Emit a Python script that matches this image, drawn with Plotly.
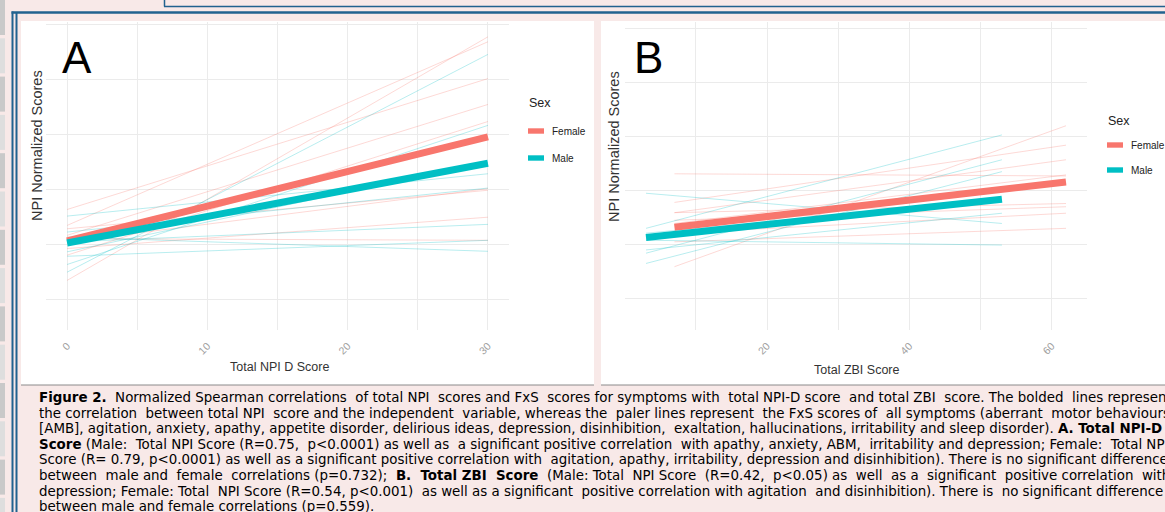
import plotly.graph_objects as go

W, H = 1165, 512

# ---------------- data ----------------
sex_labels = ["Female", "Male"]
sex_colors = ["#F8766D", "#00BFC4"]

# Panel A: Total NPI-D score
npi_d_x = [0, 30]
a_female_total = [0.007, 0.196]
a_male_total = [0.003, 0.148]
a_female_symptoms = [
    [-0.065, 0.378], [0.035, 0.369], [0.064, 0.302], [0.017, 0.255],
    [-0.019, 0.224], [0.029, 0.099], [-0.007, 0.050], [0.011, 0.008],
    [0.005, 0.102],
]
a_male_symptoms = [
    [-0.050, 0.346], [-0.036, 0.217], [0.052, 0.129], [0.023, 0.103],
    [0.005, 0.037], [-0.021, 0.008], [0.014, -0.012], [-0.013, 0.150],
]

# Panel B: Total ZBI score
zbi_female_x = [7, 62]
zbi_male_x = [3, 53]
b_female_total = [0.031, 0.115]
b_male_total = [0.012, 0.083]
b_female_symptoms = [
    [-0.042, 0.219], [0.077, 0.183], [0.130, 0.126], [0.058, 0.156],
    [0.038, 0.128], [0.058, 0.075], [0.020, 0.057], [0.004, 0.029],
    [0.044, 0.069],
]
b_male_symptoms = [
    [0.094, 0.038], [0.029, 0.202], [-0.017, 0.156], [-0.036, 0.134],
    [-0.011, 0.057], [0.007, -0.002], [0.020, 0.082],
]

a_xticks = [0, 10, 20, 30]
a_xminor = [5, 15, 25]
b_xticks = [20, 40, 60]
b_xminor = [10, 30, 50]
y_grid = [-0.1, 0.0, 0.1, 0.2, 0.3, 0.4]

caption_lines = [
    "<b>Figure 2.</b> Normalized Spearman correlations of total NPI scores and FxS scores for symptoms with total NPI-D score and total ZBI score. The bolded lines represent",
    "the correlation between total NPI score and the independent variable, whereas the paler lines represent the FxS scores of all symptoms (aberrant motor behaviours",
    "[AMB], agitation, anxiety, apathy, appetite disorder, delirious ideas, depression, disinhibition, exaltation, hallucinations, irritability and sleep disorder). <b>A. Total NPI-D</b>",
    "<b>Score</b> (Male: Total NPI Score (R=0.75, p<0.0001) as well as a significant positive correlation with apathy, anxiety, ABM, irritability and depression; Female: Total NPI",
    "Score (R= 0.79, p<0.0001) as well as a significant positive correlation with agitation, apathy, irritability, depression and disinhibition). There is no significant difference",
    "between male and female correlations (p=0.732); <b>B. Total ZBI Score</b> (Male: Total NPI Score (R=0.42, p<0.05) as well as a significant positive correlation with",
    "depression; Female: Total NPI Score (R=0.54, p<0.001) as well as a significant positive correlation with agitation and disinhibition). There is no significant difference",
    "between male and female correlations (p=0.559).",
]
# extra word-spacing units per line (emulates the justified paragraph)
caption_extra_spaces = [8, 7, 1, 6, 1, 15, 5, 0]

# ---------------- helpers ----------------
def X(px):
    return px / W

def Y(py):
    return 1 - py / H

def rgba(hexc, a):
    h = hexc.lstrip("#")
    r, g, b = int(h[0:2], 16), int(h[2:4], 16), int(h[4:6], 16)
    return f"rgba({r},{g},{b},{a})"

def justify(line, extra):
    parts = line.split(" ")
    gaps = len(parts) - 1
    if extra <= 0 or gaps <= 0:
        return line
    out = parts[0]
    for i in range(1, len(parts)):
        add = round(extra * i / gaps) - round(extra * (i - 1) / gaps)
        out += " " + "\u00a0" * add + parts[i]
    return out

fig = go.Figure()

def add_panel(xf, xm, f_sym, m_sym, f_tot, m_tot, xa, ya):
    for s in f_sym:
        fig.add_trace(go.Scatter(x=xf, y=s, mode="lines", xaxis=xa, yaxis=ya,
                                 line=dict(color=rgba(sex_colors[0], 0.28), width=1),
                                 showlegend=False, hoverinfo="skip"))
    for s in m_sym:
        fig.add_trace(go.Scatter(x=xm, y=s, mode="lines", xaxis=xa, yaxis=ya,
                                 line=dict(color=rgba(sex_colors[1], 0.28), width=1),
                                 showlegend=False, hoverinfo="skip"))
    fig.add_trace(go.Scatter(x=xf, y=f_tot, mode="lines", xaxis=xa, yaxis=ya,
                             line=dict(color=sex_colors[0], width=7), name=sex_labels[0],
                             showlegend=False))
    fig.add_trace(go.Scatter(x=xm, y=m_tot, mode="lines", xaxis=xa, yaxis=ya,
                             line=dict(color=sex_colors[1], width=7), name=sex_labels[1],
                             showlegend=False))

add_panel(npi_d_x, npi_d_x, a_female_symptoms, a_male_symptoms,
          a_female_total, a_male_total, "x", "y")
add_panel(zbi_female_x, zbi_male_x, b_female_symptoms, b_male_symptoms,
          b_female_total, b_male_total, "x2", "y2")

grid_c = "#ebebeb"
tickfont = dict(family="Liberation Sans, Arial, sans-serif", size=10.5, color="#a0a0a0")

def xaxis_cfg(dom, rng, ticks, minor):
    return dict(domain=dom, range=rng, tickvals=ticks, ticktext=[str(t) for t in ticks],
                tickangle=-45, tickfont=tickfont, showgrid=True, gridcolor=grid_c,
                gridwidth=1, zeroline=False, showline=False, ticks="",
                ticklabelstandoff=7,
                minor=dict(tickvals=minor, showgrid=True, gridcolor=grid_c, gridwidth=1),
                fixedrange=True)

def yaxis_cfg(dom, rng, anchor):
    return dict(domain=dom, range=rng, tickvals=y_grid, showticklabels=False,
                showgrid=True, gridcolor=grid_c, gridwidth=1, zeroline=False,
                showline=False, ticks="", anchor=anchor, fixedrange=True)

ydom = [Y(330), Y(22)]
fig.update_layout(
    width=W, height=H,
    margin=dict(l=0, r=0, t=0, b=0),
    paper_bgcolor="#f8e9e8",
    plot_bgcolor="white",
    showlegend=False,
    xaxis=dict(xaxis_cfg([X(46), X(509)], [-1.5, 31.5], a_xticks, a_xminor), anchor="y"),
    yaxis=yaxis_cfg(ydom, [(244.7 - 330) / 550, (244.7 - 22) / 550], "x"),
    xaxis2=dict(xaxis_cfg([X(625), X(1087)], [0.05, 64.95], b_xticks, b_xminor), anchor="y2"),
    yaxis2=yaxis_cfg(ydom, [(244 - 330) / 540, (244 - 22) / 540], "x2"),
)

shapes = []
# white panel backgrounds
shapes.append(dict(type="rect", xref="paper", yref="paper", x0=X(21), x1=X(594),
                   y0=Y(385), y1=Y(21), fillcolor="white", line_width=0, layer="below"))
shapes.append(dict(type="rect", xref="paper", yref="paper", x0=X(601), x1=X(1165),
                   y0=Y(385), y1=Y(21), fillcolor="white", line_width=0, layer="below"))
# bottom rule under panels
shapes.append(dict(type="line", xref="paper", yref="paper", x0=X(21), x1=X(594),
                   y0=Y(385), y1=Y(385), line=dict(color="#8a8a8a", width=1)))
shapes.append(dict(type="line", xref="paper", yref="paper", x0=X(601), x1=X(1165),
                   y0=Y(385), y1=Y(385), line=dict(color="#8a8a8a", width=1)))
# sidebar gray blocks
yy = 0
i = 0
while yy < H:
    shapes.append(dict(type="rect", xref="paper", yref="paper", x0=0, x1=X(5),
                       y0=Y(min(yy + 35, H)), y1=Y(yy),
                       fillcolor="#c9c9c9" if i % 2 == 0 else "#dedede", line_width=0))
    yy += 38.3
    i += 1
blue = "#21628f"
shapes.append(dict(type="line", xref="paper", yref="paper", x0=X(12.5), x1=X(12.5),
                   y0=0, y1=Y(11.5), line=dict(color=blue, width=2)))
shapes.append(dict(type="line", xref="paper", yref="paper", x0=X(16.5), x1=X(16.5),
                   y0=0, y1=Y(12.5), line=dict(color=blue, width=2)))
shapes.append(dict(type="line", xref="paper", yref="paper", x0=X(11.5), x1=1,
                   y0=Y(12.5), y1=Y(12.5), line=dict(color=blue, width=2.5)))
shapes.append(dict(type="line", xref="paper", yref="paper", x0=X(164), x1=1,
                   y0=Y(6.5), y1=Y(6.5), line=dict(color=blue, width=1.5)))
shapes.append(dict(type="line", xref="paper", yref="paper", x0=X(164.5), x1=X(164.5),
                   y0=Y(6.5), y1=1, line=dict(color=blue, width=1.5)))

annotations = []
lab_font = "Liberation Sans, Arial, sans-serif"

def legend(x0, ysex, yf, ym):
    annotations.append(dict(x=X(x0), y=Y(ysex), xref="paper", yref="paper", text="Sex",
                            showarrow=False, xanchor="left", yanchor="middle",
                            font=dict(family=lab_font, size=12.5, color="#222")))
    for yv, lab, col in [(yf, sex_labels[0], sex_colors[0]), (ym, sex_labels[1], sex_colors[1])]:
        shapes.append(dict(type="rect", xref="paper", yref="paper", x0=X(x0 + 1), x1=X(x0 + 17),
                           y0=Y(yv + 2.7), y1=Y(yv - 2.7), fillcolor=col, line_width=0))
        annotations.append(dict(x=X(x0 + 23), y=Y(yv), xref="paper", yref="paper", text=lab,
                                showarrow=False, xanchor="left", yanchor="middle",
                                font=dict(family=lab_font, size=10, color="#222")))

legend(527, 103, 131, 158)
legend(1106, 121, 145, 170)

for txt, x, y in [("A", 77, 57), ("B", 648, 57)]:
    annotations.append(dict(x=X(x), y=Y(y), xref="paper", yref="paper", text=txt,
                            showarrow=False, xanchor="center", yanchor="middle",
                            font=dict(family=lab_font, size=44, color="black")))
for txt, x, y in [("Total NPI D Score", 279, 367), ("Total ZBI Score", 856, 370)]:
    annotations.append(dict(x=X(x), y=Y(y), xref="paper", yref="paper", text=txt,
                            showarrow=False, xanchor="center", yanchor="middle",
                            font=dict(family=lab_font, size=12.5, color="#333")))
for x, y in [(37, 146), (614, 146)]:
    annotations.append(dict(x=X(x), y=Y(y), xref="paper", yref="paper",
                            text="NPI Normalized Scores", textangle=-90,
                            showarrow=False, xanchor="center", yanchor="middle",
                            font=dict(family=lab_font, size=14.5, color="#333")))

for k, line in enumerate(caption_lines):
    annotations.append(dict(x=X(37), y=Y(397.5 + 15.6 * k), xref="paper", yref="paper",
                            text=justify(line, caption_extra_spaces[k]),
                            showarrow=False, xanchor="left", yanchor="middle",
                            font=dict(family="DejaVu Sans, Verdana, sans-serif", size=13.4,
                                      color="black")))

fig.update_layout(shapes=shapes, annotations=annotations)

fig.write_html("out.html", config={"displayModeBar": False},
               post_script="document.body.style.margin='0';document.body.style.overflow='hidden';")
